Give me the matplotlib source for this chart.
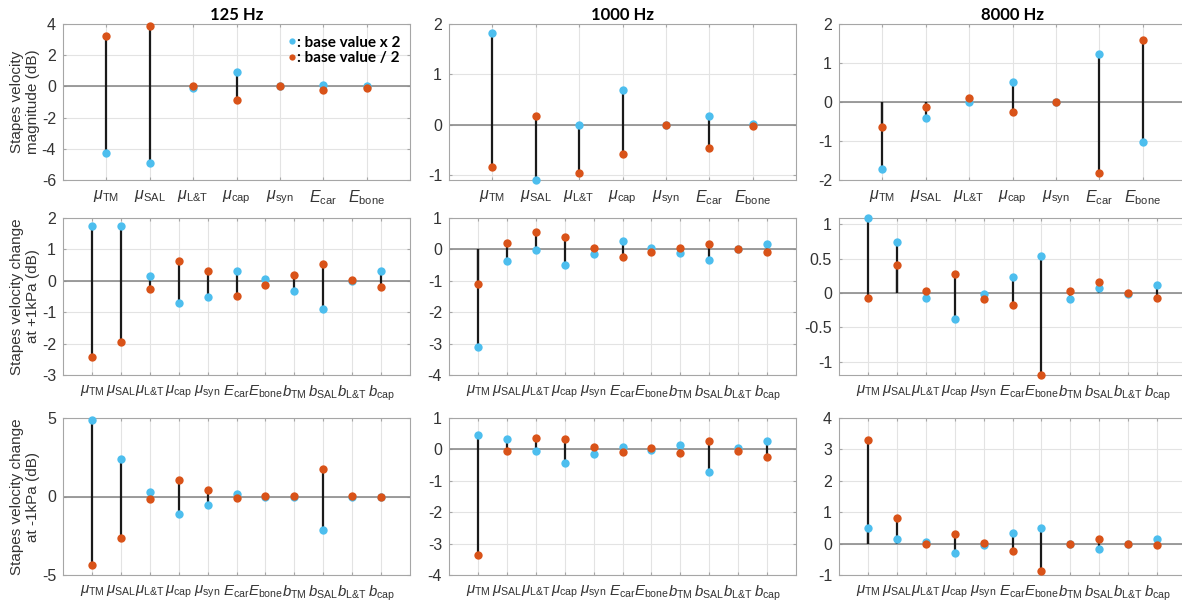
import matplotlib
matplotlib.use('Agg')
import matplotlib.pyplot as plt
from matplotlib.lines import Line2D
from matplotlib.mathtext import MathTextParser
from matplotlib.font_manager import FontProperties

plt.rcParams['font.family'] = ['Liberation Sans', 'DejaVu Sans']
plt.rcParams['mathtext.fontset'] = 'custom'
plt.rcParams['mathtext.rm'] = 'Liberation Sans'
plt.rcParams['mathtext.it'] = 'Liberation Sans:italic'
plt.rcParams['mathtext.bf'] = 'Liberation Sans:bold'

_p = MathTextParser('path')
def _ok(s):
    try:
        _p.parse(s, prop=FontProperties(size=10))
        return True
    except Exception:
        return False

LT = None
for cand in [r'\mathrm{L&T}', r'\mathrm{L}&\mathrm{T}', r'\mathrm{L}\mathrm{\&}\mathrm{T}', r'\mathrm{L}\mathrm{\%}\mathrm{T}']:
    if _ok('$x_{' + cand + '}$'):
        LT = cand
        break

# ---------------- data ----------------
labels7 = [r'$\mu_{\mathrm{TM}}$', r'$\mu_{\mathrm{SAL}}$', r'$\mu_{' + LT + '}$',
           r'$\mu_{\mathrm{cap}}$', r'$\mu_{\mathrm{syn}}$', r'$E_{\mathrm{car}}$',
           r'$E_{\mathrm{bone}}$']
labels11 = labels7 + [r'$b_{\mathrm{TM}}$', r'$b_{\mathrm{SAL}}$', r'$b_{' + LT + '}$',
                      r'$b_{\mathrm{cap}}$']

freqs = ['125 Hz', '1000 Hz', '8000 Hz']
row_ylabels = ['Stapes velocity\nmagnitude (dB)',
               'Stapes velocity change\nat +1kPa (dB)',
               'Stapes velocity change\nat -1kPa (dB)']

# Row 1: magnitude
mag_125_x2 = [-4.25, -4.91, -0.10, 0.92, 0.00, 0.10, 0.05]
mag_125_d2 = [3.26, 3.88, 0.03, -0.86, 0.00, -0.21, -0.08]
mag_1000_x2 = [1.83, -1.09, 0.00, 0.69, 0.00, 0.18, 0.01]
mag_1000_d2 = [-0.83, 0.17, -0.96, -0.57, -0.01, -0.45, -0.03]
mag_8000_x2 = [-1.73, -0.42, 0.00, 0.51, 0.00, 1.24, -1.02]
mag_8000_d2 = [-0.65, -0.14, 0.09, -0.26, 0.00, -1.83, 1.59]

# Row 2: change at +1 kPa
p1_125_x2 = [1.74, 1.73, 0.16, -0.70, -0.53, 0.31, 0.07, -0.31, -0.91, 0.00, 0.30]
p1_125_d2 = [-2.42, -1.94, -0.25, 0.64, 0.32, -0.49, -0.12, 0.20, 0.55, 0.01, -0.20]
p1_1000_x2 = [-3.10, -0.36, -0.02, -0.50, -0.15, 0.26, 0.04, -0.13, -0.33, 0.00, 0.16]
p1_1000_d2 = [-1.10, 0.19, 0.56, 0.41, 0.06, -0.25, -0.07, 0.06, 0.16, 0.00, -0.09]
p1_8000_x2 = [1.09, 0.74, -0.07, -0.37, -0.02, 0.23, 0.54, -0.08, 0.07, -0.02, 0.11]
p1_8000_d2 = [-0.07, 0.41, 0.03, 0.27, -0.08, -0.18, -1.19, 0.03, 0.16, 0.00, -0.07]

# Row 3: change at -1 kPa
m1_125_x2 = [4.89, 2.41, 0.26, -1.14, -0.52, 0.15, 0.00, -0.06, -2.16, 0.00, 0.00]
m1_125_d2 = [-4.35, -2.63, -0.17, 1.03, 0.41, -0.11, 0.04, 0.04, 1.77, 0.02, 0.00]
m1_1000_x2 = [0.46, 0.32, -0.06, -0.43, -0.16, 0.08, -0.03, 0.15, -0.71, 0.04, 0.28]
m1_1000_d2 = [-3.35, -0.06, 0.35, 0.32, 0.08, -0.07, 0.04, -0.12, 0.28, -0.04, -0.24]
m1_8000_x2 = [0.51, 0.15, 0.05, -0.31, -0.04, 0.33, 0.50, 0.00, -0.17, 0.00, 0.15]
m1_8000_d2 = [3.30, 0.83, -0.01, 0.29, 0.02, -0.22, -0.88, 0.00, 0.16, 0.00, -0.06]

panels = [
    [(mag_125_x2, mag_125_d2), (mag_1000_x2, mag_1000_d2), (mag_8000_x2, mag_8000_d2)],
    [(p1_125_x2, p1_125_d2), (p1_1000_x2, p1_1000_d2), (p1_8000_x2, p1_8000_d2)],
    [(m1_125_x2, m1_125_d2), (m1_1000_x2, m1_1000_d2), (m1_8000_x2, m1_8000_d2)],
]
row_labels = [labels7, labels11, labels11]

ylims = [[(-6, 4), (-1.09, 2), (-2, 2)],
         [(-3, 2), (-4, 1), (-1.19, 1.09)],
         [(-5, 5), (-4, 1), (-1, 4)]]
yticks = [[[-6, -4, -2, 0, 2, 4], [-1, 0, 1, 2], [-2, -1, 0, 1, 2]],
          [[-3, -2, -1, 0, 1, 2], [-4, -3, -2, -1, 0, 1], [-1, -0.5, 0, 0.5, 1]],
          [[-5, 0, 5], [-4, -3, -2, -1, 0, 1], [-1, 0, 1, 2, 3, 4]]]

BLUE = '#4DBEEE'
ORANGE = '#D95319'

# ---------------- layout ----------------
W, H = 1182, 606
fig = plt.figure(figsize=(W / 100, H / 100), dpi=100)
col_left = [63, 449, 839]
col_w = 347
row_top = [24, 218, 418]
row_bot = [180, 375, 575]

for r in range(3):
    for c in range(3):
        l = col_left[c] / W
        b = 1 - row_bot[r] / H
        h = (row_bot[r] - row_top[r]) / H
        ax = fig.add_axes([l, b, col_w / W, h])
        x2, d2 = panels[r][c]
        labs = row_labels[r]
        n = len(labs)
        xs = list(range(1, n + 1))
        ax.set_xlim(0, n + 1)
        ax.set_ylim(*ylims[r][c])
        ax.set_yticks(yticks[r][c])
        ax.set_yticklabels([('%g' % t) for t in yticks[r][c]])
        ax.set_xticks(xs)
        ax.set_xticklabels(labs, fontsize=11.5 if n == 7 else 10.8)
        ax.grid(True, color='#e3e3e3', lw=0.8, zorder=0)
        ax.set_axisbelow(True)
        ax.axhline(0, color='#8c8c8c', lw=1.2, zorder=1)
        ax.vlines(xs, 0, x2, colors='#1a1a1a', lw=1.6, zorder=2)
        ax.vlines(xs, 0, d2, colors='#1a1a1a', lw=1.6, zorder=2)
        ax.plot(xs, x2, 'o', color=BLUE, ms=6, mec='none', zorder=3, clip_on=False)
        ax.plot(xs, d2, 'o', color=ORANGE, ms=6, mec='none', zorder=4, clip_on=False)
        for s in ax.spines.values():
            s.set_color('#a6a6a6')
            s.set_linewidth(0.8)
        ax.tick_params(axis='both', direction='in', length=2.5, color='#a6a6a6',
                       labelcolor='#333333', top=True, right=True)
        ax.tick_params(axis='y', labelsize=11.5, pad=5)
        ax.tick_params(axis='x', pad=6)
        if r == 0:
            ax.set_title(freqs[c], fontsize=12, fontweight='bold', family='Lato', pad=3)
        if c == 0:
            ax.set_ylabel(row_ylabels[r], fontsize=11, color='#333333')
            ax.yaxis.set_label_coords(-(63 - 40) / col_w, 0.5)
        if r == 0 and c == 0:
            handles = [Line2D([], [], marker='o', ls='none', color=BLUE, ms=4.5, mec='none'),
                       Line2D([], [], marker='o', ls='none', color=ORANGE, ms=4.5, mec='none')]
            leg = ax.legend(handles, [': base value x 2', ': base value / 2'],
                            loc='upper right', bbox_to_anchor=(0.995, 0.975),
                            frameon=False, handlelength=0.4, handletextpad=0.15,
                            borderaxespad=0.1, labelspacing=0.1,
                            prop={'family': 'Lato', 'weight': 'bold', 'size': 11})

fig.savefig('out.png', dpi=100)
